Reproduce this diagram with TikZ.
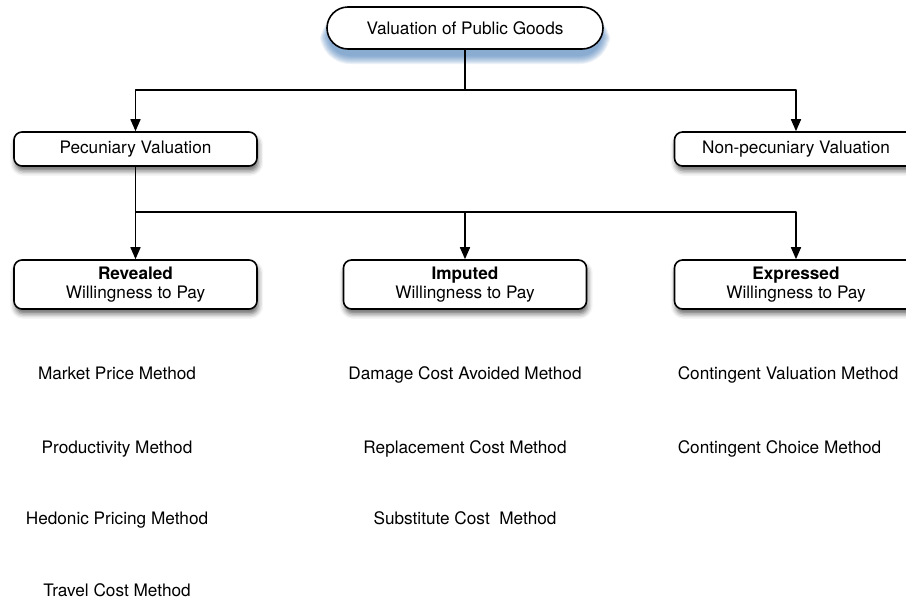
\documentclass[tikz,border=0pt]{standalone}
\usepackage{fontspec}
\setmainfont{TeX Gyre Heros}
\usetikzlibrary{arrows.meta,shadows.blur}
\definecolor{glowblue}{RGB}{52,110,175}
\tikzset{
  root/.style={draw,line width=0.8pt,fill=white,rounded corners=10.5pt,minimum width=138pt,minimum height=21pt,inner sep=0pt},
  box/.style={draw,line width=0.8pt,fill=white,rounded corners=4pt,align=center,minimum width=121.5pt,inner sep=0pt,
    blur shadow={shadow xshift=0.6pt,shadow yshift=-2.4pt,shadow opacity=60,shadow blur radius=2.5pt}},
  method/.style={anchor=base,inner sep=0pt},
}
\begin{document}
\begin{tikzpicture}[x=0.5pt,y=-0.5pt,>={Triangle[length=6pt,width=5pt]},line join=round,line width=0.8pt,font=\fontsize{8.6}{9.6}\selectfont]
\useasboundingbox (0,0) rectangle (906,600);
% soft blue glow under the top node
\foreach \k in {1,...,9}
  \fill[glowblue,opacity=0.09,rounded corners={(21+\k)*0.5pt}] (329-\k,16-0.4*\k) rectangle (601+\k,55+\k);
\node[root] (root) at (465,28) {Valuation of Public Goods};

\node[box,minimum height=17pt] (pec) at (135.5,149) {Pecuniary Valuation};
\node[box,minimum height=17pt] (nonpec) at (796,149) {Non-pecuniary Valuation};

\node[box,minimum height=24.5pt] (rev) at (135.5,284.5) {\textbf{Revealed}\\Willingness to Pay};
\node[box,minimum height=24.5pt] (imp) at (465,284.5) {\textbf{Imputed}\\Willingness to Pay};
\node[box,minimum height=24.5pt] (exp) at (796,284.5) {\textbf{Expressed}\\Willingness to Pay};

\coordinate (fork1) at (465,90);
\coordinate (fork2) at (135.5,212);
\draw (root) -- (fork1);
\draw[->] (fork1) -| (pec);
\draw[->] (fork1) -| (nonpec);
\draw (pec) -- (fork2);
\draw[->] (fork2) -- (rev);
\draw[->] (fork2) -| (imp);
\draw[->] (fork2) -| (exp);

% methods under each box
\node[method] (mp) at (117,379) {Market Price Method};
\node[method] (pm) at (117,453) {Productivity Method};
\node[method] (hp) at (117,524) {Hedonic Pricing Method};
\node[method] (tc) at (117,596) {Travel Cost Method};
\node[method] (dc) at (465,379) {Damage Cost Avoided Method};
\node[method] (rc) at (465,453) {Replacement Cost Method};
\node[method] (sc) at (465,524) {Substitute Cost\ \ Method};
\node[method,anchor=base west] (cv) at (677,379) {Contingent Valuation Method};
\node[method,anchor=base west] (cc) at (677,453) {Contingent Choice Method};
\end{tikzpicture}
\end{document}
